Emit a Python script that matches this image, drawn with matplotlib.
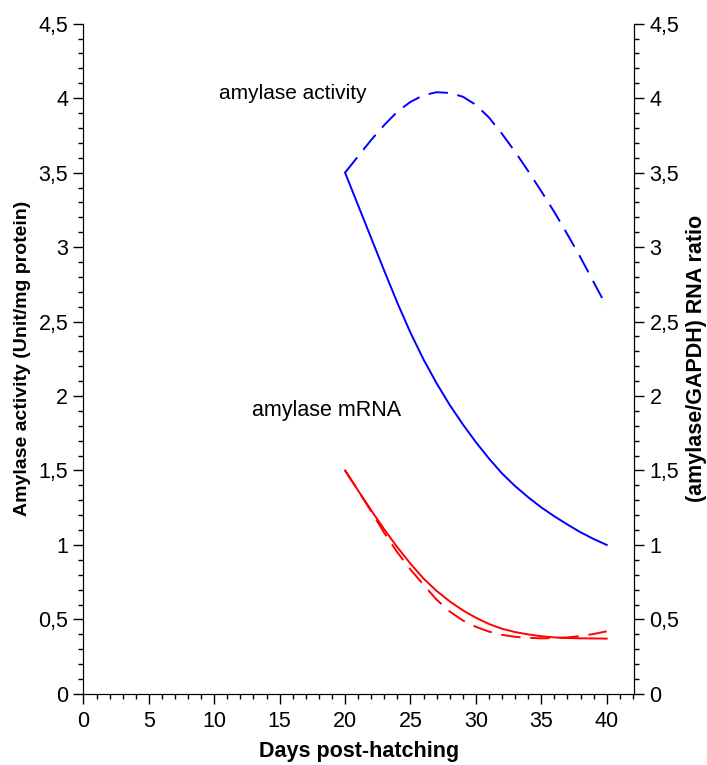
import matplotlib
matplotlib.use('Agg')
import matplotlib.pyplot as plt
from matplotlib.ticker import MultipleLocator, FuncFormatter

plt.rcParams['font.family'] = ['Liberation Sans', 'DejaVu Sans']

# days post-hatching
days = list(range(20, 41))

# amylase activity (blue)
activity_solid = [3.5, 3.28, 3.06, 2.84, 2.625, 2.425, 2.245, 2.085, 1.94, 1.81, 1.69,
                  1.58, 1.48, 1.395, 1.32, 1.252, 1.192, 1.137, 1.085, 1.04, 1.0]
activity_dashed = [3.5, 3.61, 3.72, 3.82, 3.91, 3.975, 4.02, 4.04, 4.035, 4.01, 3.955,
                   3.87, 3.76, 3.64, 3.51, 3.375, 3.235, 3.085, 2.93, 2.765, 2.6]

# amylase mRNA (red)
mrna_solid = [1.5, 1.365, 1.232, 1.104, 0.984, 0.874, 0.774, 0.691, 0.621, 0.561, 0.511,
              0.469, 0.437, 0.415, 0.399, 0.387, 0.379, 0.375, 0.373, 0.372, 0.371]
mrna_dashed = [1.5, 1.365, 1.225, 1.08, 0.95, 0.835, 0.732, 0.632, 0.553, 0.493, 0.45,
               0.418, 0.396, 0.383, 0.376, 0.373, 0.374, 0.379, 0.388, 0.402, 0.42]

comma = FuncFormatter(lambda v, p: ('%g' % v).replace('.', ','))

fig = plt.figure(figsize=(7.07, 7.65), dpi=100)
ax = fig.add_axes([0.118, 0.093, 0.779, 0.876])

dash = (0, (10, 5))
ax.plot(days, activity_solid, color='#0000ff', lw=1.4)
ax.plot(days, activity_dashed, color='#0000ff', lw=1.4, linestyle=dash)
ax.plot(days, mrna_solid, color='#ff0000', lw=1.4)
ax.plot(days, mrna_dashed, color='#ff0000', lw=1.4, linestyle=dash)

ax.text(10.4, 4.03, 'amylase activity', fontsize=15, va='center')
ax.text(12.9, 1.9, 'amylase mRNA', fontsize=15.5, va='center')

ax.set_xlim(0, 42.1)
ax.set_ylim(0, 4.5)
ax.xaxis.set_major_locator(MultipleLocator(5))
ax.xaxis.set_minor_locator(MultipleLocator(1))
ax.yaxis.set_major_locator(MultipleLocator(0.5))
ax.yaxis.set_minor_locator(MultipleLocator(0.1))
ax.yaxis.set_major_formatter(comma)
ax.spines['top'].set_visible(False)
ax.tick_params(which='major', length=7.5, width=1, labelsize=15.5)
ax.tick_params(which='minor', length=3.6, width=1)
ax.tick_params(axis='x', which='major', pad=5)
ax.set_xlabel('Days post-hatching', fontsize=15.5, fontweight='bold', labelpad=6)
ax.set_ylabel('Amylase activity (Unit/mg protein)', fontsize=14, fontweight='bold', labelpad=5)

ax2 = ax.twinx()
ax2.set_ylim(0, 4.5)
ax2.yaxis.set_major_locator(MultipleLocator(0.5))
ax2.yaxis.set_minor_locator(MultipleLocator(0.1))
ax2.yaxis.set_major_formatter(comma)
ax2.spines['top'].set_visible(False)
ax2.tick_params(which='major', length=7.5, width=1, labelsize=15.5)
ax2.tick_params(which='minor', length=3.6, width=1)
ax2.set_ylabel('(amylase/GAPDH) RNA ratio', fontsize=15.5, fontweight='bold',
               rotation=90, labelpad=5)

fig.savefig('out.png', dpi=100)
